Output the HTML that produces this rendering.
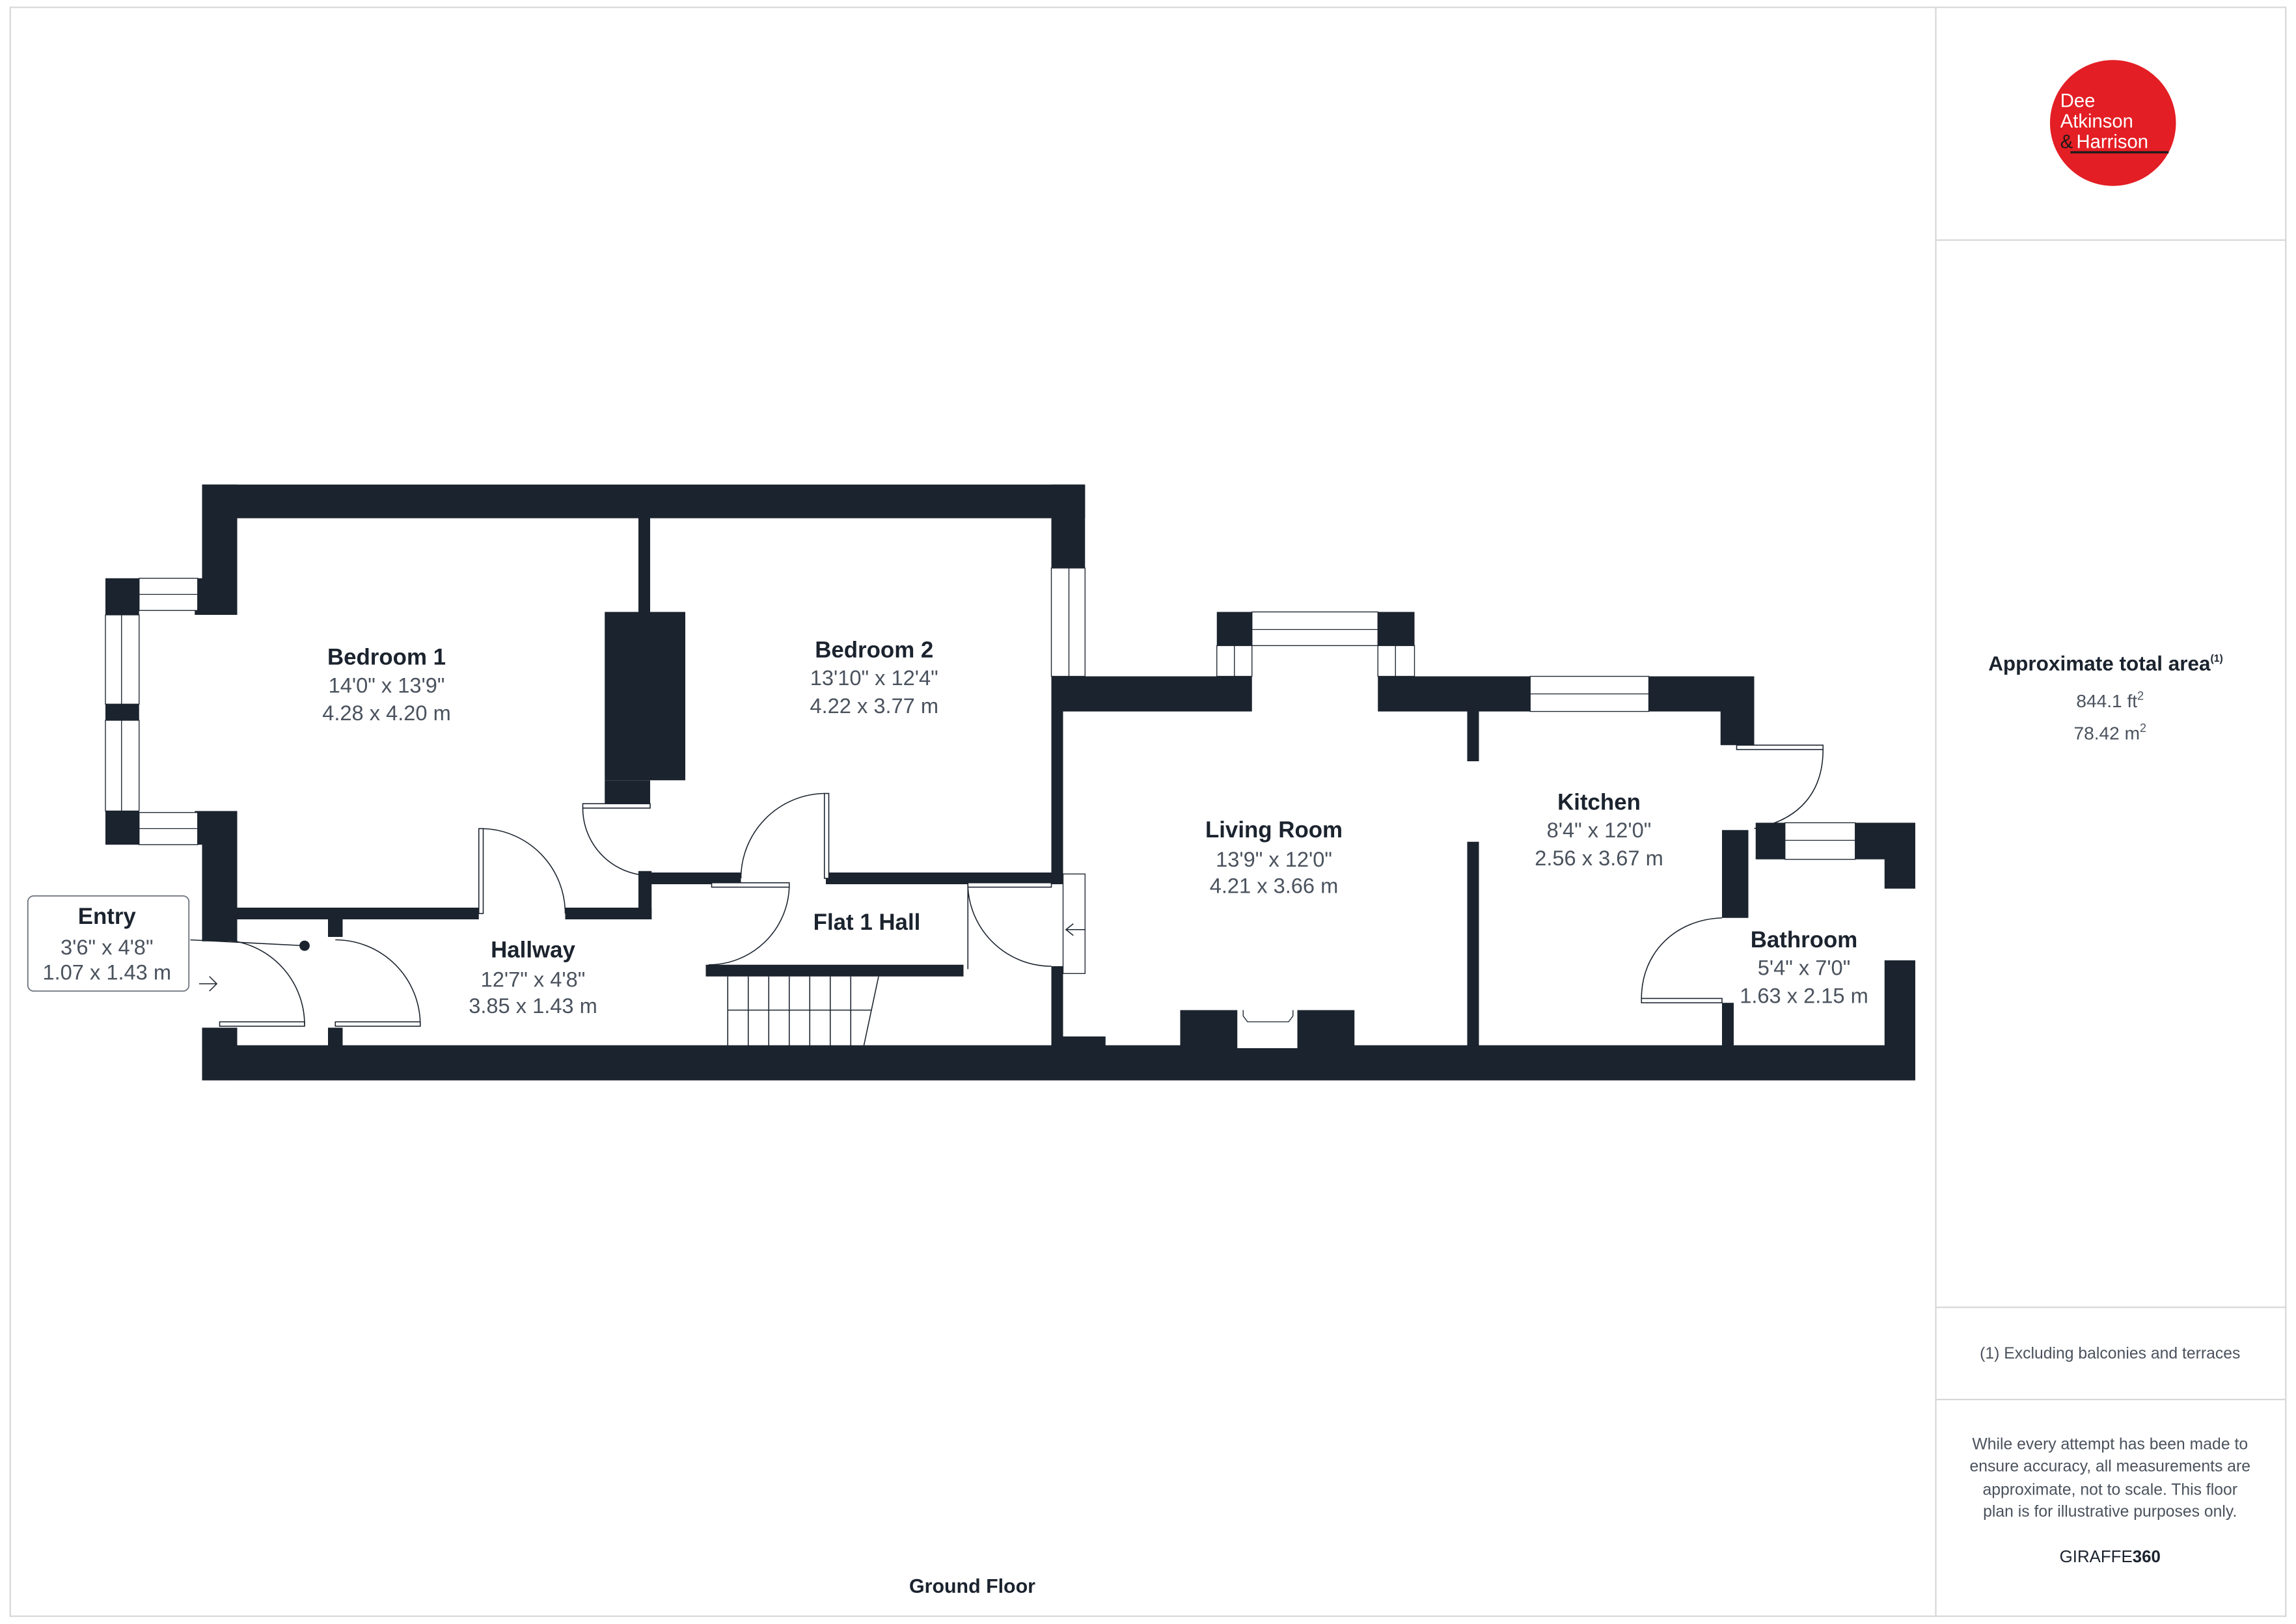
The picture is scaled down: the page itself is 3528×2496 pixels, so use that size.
<!DOCTYPE html>
<html><head><meta charset="utf-8"><style>
html,body{margin:0;padding:0;background:#fff}
svg{display:block}
text{font-family:"Liberation Sans",sans-serif}
.n{font-weight:bold;font-size:15.5px;fill:#1b232e;text-anchor:middle}
.d{font-size:14.5px;fill:#4a525d;text-anchor:middle}
.p{font-size:11px;fill:#4a525d;text-anchor:middle}
</style></head><body>
<svg width="3528" height="2496" viewBox="0 0 1568 1109.33" xmlns="http://www.w3.org/2000/svg">
<rect x="0" y="0" width="1568" height="1110" fill="#fff"/>
<rect x="7" y="5" width="1554" height="1099" fill="none" stroke="#d8d8d8" stroke-width="1"/>
<line x1="1322" y1="5" x2="1322" y2="1104" stroke="#d8d8d8"/>
<line x1="1322" y1="164" x2="1561" y2="164" stroke="#d8d8d8"/>
<line x1="1322" y1="893" x2="1561" y2="893" stroke="#d8d8d8"/>
<line x1="1322" y1="956" x2="1561" y2="956" stroke="#d8d8d8"/>

<!-- logo -->
<circle cx="1443" cy="84" r="43" fill="#e31e24"/>
<text x="1407" y="73" font-size="13" fill="#fff">Dee</text>
<text x="1407" y="87" font-size="13" fill="#fff">Atkinson</text>
<text x="1407" y="101" font-size="13" fill="#1b1b1b">&amp;</text>
<text x="1418" y="101" font-size="13" fill="#fff">Harrison</text>
<line x1="1414" y1="104" x2="1481" y2="104" stroke="#1b1b1b" stroke-width="1.5"/>

<text x="1438" y="458" font-size="14" font-weight="bold" fill="#1b232e" text-anchor="middle">Approximate total area<tspan font-size="7" dy="-6">(1)</tspan></text>
<text x="1441" y="483" class="d" font-size="12.5" style="font-size:12.5px">844.1 ft<tspan font-size="8" dy="-5">2</tspan></text>
<text x="1441" y="505" class="d" style="font-size:12.5px">78.42 m<tspan font-size="8" dy="-5">2</tspan></text>
<text x="1441" y="928" class="p">(1) Excluding balconies and terraces</text>
<text x="1441" y="990" class="p">While every attempt has been made to</text>
<text x="1441" y="1005" class="p">ensure accuracy, all measurements are</text>
<text x="1441" y="1021" class="p">approximate, not to scale. This floor</text>
<text x="1441" y="1036" class="p">plan is for illustrative purposes only.</text>
<text x="1441" y="1067" font-size="11.5" fill="#1b232e" text-anchor="middle">GIRAFFE<tspan font-weight="bold">360</tspan></text>

<!-- walls -->
<g fill="#1b232e">
<rect x="138" y="331" width="603" height="23"/>
<rect x="138" y="331" width="24" height="89"/>
<rect x="133" y="395" width="29" height="25"/>
<rect x="72" y="395" width="23" height="25"/>
<rect x="72" y="481" width="23" height="11"/>
<rect x="72" y="554" width="23" height="23"/>
<rect x="133" y="554" width="29" height="23"/>
<rect x="138" y="554" width="24" height="89"/>
<rect x="138" y="702" width="24" height="36"/>
<rect x="138" y="714" width="1170" height="24"/>
<rect x="162" y="620" width="165" height="8"/>
<rect x="386" y="620" width="59" height="8"/>
<rect x="436" y="595" width="9" height="33"/>
<rect x="436" y="354" width="8" height="66"/>
<rect x="413" y="418" width="55" height="115"/>
<rect x="413" y="533" width="31" height="18"/>
<rect x="443" y="596" width="63" height="8"/>
<rect x="564" y="596" width="158" height="8"/>
<rect x="718" y="331" width="23" height="57"/>
<rect x="718" y="462" width="137" height="24"/>
<rect x="718" y="462" width="8" height="142"/>
<rect x="718" y="660" width="8" height="54"/>
<rect x="726" y="708" width="29" height="6"/>
<rect x="831" y="418" width="24" height="23"/>
<rect x="941" y="418" width="25" height="23"/>
<rect x="941" y="462" width="104" height="24"/>
<rect x="1126" y="462" width="72" height="24"/>
<rect x="1175" y="462" width="23" height="47"/>
<rect x="1002" y="486" width="8" height="34"/>
<rect x="1002" y="575" width="8" height="139"/>
<rect x="1199" y="562" width="20" height="25"/>
<rect x="1267" y="562" width="41" height="25"/>
<rect x="1287" y="562" width="21" height="45"/>
<rect x="1176" y="567" width="18" height="60"/>
<rect x="1176" y="685" width="8" height="29"/>
<rect x="1287" y="656" width="21" height="58"/>
<rect x="806" y="690" width="119" height="24"/>
<rect x="224" y="628" width="10" height="12"/>
<rect x="224" y="702" width="10" height="12"/>
<rect x="482" y="659" width="176" height="8"/>
</g>
<!-- fireplace insert -->
<rect x="845" y="690" width="41" height="26" fill="#fff"/>
<path d="M849 690 v4 l3 4 h28 l3 -4 v-4" fill="none" stroke="#1b232e" stroke-width="0.6"/>

<!-- windows -->
<g fill="#fff" stroke="#1b232e" stroke-width="0.6">
<rect x="95" y="395" width="40" height="22"/><line x1="95" y1="406" x2="135" y2="406"/>
<rect x="95" y="555" width="40" height="22"/><line x1="95" y1="566" x2="135" y2="566"/>
<rect x="72" y="420" width="23" height="61"/><line x1="83" y1="420" x2="83" y2="481"/>
<rect x="72" y="492" width="23" height="62"/><line x1="83" y1="492" x2="83" y2="554"/>
<rect x="718" y="388" width="23" height="74"/><line x1="730" y1="388" x2="730" y2="462"/>
<rect x="855" y="418" width="86" height="23"/><line x1="855" y1="430" x2="941" y2="430"/>
<rect x="831" y="441" width="24" height="21"/><line x1="843" y1="441" x2="843" y2="462"/>
<rect x="941" y="441" width="25" height="21"/><line x1="953" y1="441" x2="953" y2="462"/>
<rect x="1045" y="462" width="81" height="24"/><line x1="1045" y1="474" x2="1126" y2="474"/>
<rect x="1219" y="562" width="48" height="25"/><line x1="1219" y1="574" x2="1267" y2="574"/>
<rect x="726" y="597" width="15" height="68"/>
</g>

<!-- doors -->
<g fill="none" stroke="#1b232e" stroke-width="0.7">
<rect x="150" y="698" width="58" height="3" fill="#fff"/>
<path d="M208 700 A58 58 0 0 0 150 642"/>
<line x1="130" y1="642" x2="208" y2="646"/>
<rect x="229" y="698" width="58" height="3" fill="#fff"/>
<path d="M287 700 A58 58 0 0 0 229 642"/>
<rect x="327" y="566" width="3" height="58" fill="#fff"/>
<path d="M330 566 A58 58 0 0 1 386 624"/>
<rect x="398" y="549" width="46" height="3" fill="#fff"/>
<path d="M398 552 A46 46 0 0 0 444 598"/>
<rect x="563" y="542" width="3" height="58" fill="#fff"/>
<path d="M563 542 A58 58 0 0 0 506 600"/>
<rect x="486" y="603" width="53" height="3" fill="#fff"/>
<path d="M539 606 A55 55 0 0 1 484 659"/>
<rect x="661" y="603" width="57" height="3" fill="#fff"/>
<line x1="661" y1="604" x2="661" y2="662"/>
<path d="M661 606 A57 57 0 0 0 718 660"/>
<rect x="1186" y="509" width="59" height="3" fill="#fff"/>
<path d="M1245 512 C1245 540 1230 560 1198 566"/>
<rect x="1121" y="682" width="55" height="3" fill="#fff"/>
<path d="M1121 682 C1121 650 1145 628 1176 627"/>
<!-- stairs -->
<path d="M497 667 V714 M511 667 V714 M525 667 V714 M539 667 V714 M553 667 V714 M567 667 V714 M581 667 V714 M497 690 H595 M600 667 L590 714"/>
<path d="M733 631 l-5 4 l5 4 M728 635 h13"/>
<path d="M136 672 h12 M143 667 l5 5 l-5 5"/>
</g>
<circle cx="208" cy="646" r="3.5" fill="#1b232e"/>

<!-- Entry box -->
<rect x="19" y="612" width="110" height="65" rx="4" fill="#fff" stroke="#6b727c" stroke-width="0.8"/>

<!-- labels -->
<text x="73" y="631" class="n">Entry</text>
<text x="73" y="652" class="d">3'6" x 4'8"</text>
<text x="73" y="669" class="d">1.07 x 1.43 m</text>
<text x="264" y="454" class="n">Bedroom 1</text>
<text x="264" y="473" class="d">14'0" x 13'9"</text>
<text x="264" y="492" class="d">4.28 x 4.20 m</text>
<text x="597" y="449" class="n">Bedroom 2</text>
<text x="597" y="468" class="d">13'10" x 12'4"</text>
<text x="597" y="487" class="d">4.22 x 3.77 m</text>
<text x="870" y="572" class="n">Living Room</text>
<text x="870" y="592" class="d">13'9" x 12'0"</text>
<text x="870" y="610" class="d">4.21 x 3.66 m</text>
<text x="1092" y="553" class="n">Kitchen</text>
<text x="1092" y="572" class="d">8'4" x 12'0"</text>
<text x="1092" y="591" class="d">2.56 x 3.67 m</text>
<text x="1232" y="647" class="n">Bathroom</text>
<text x="1232" y="666" class="d">5'4" x 7'0"</text>
<text x="1232" y="685" class="d">1.63 x 2.15 m</text>
<text x="364" y="654" class="n">Hallway</text>
<text x="364" y="674" class="d">12'7" x 4'8"</text>
<text x="364" y="692" class="d">3.85 x 1.43 m</text>
<text x="592" y="635" class="n">Flat 1 Hall</text>
<text x="664" y="1088" font-size="13.5" font-weight="bold" fill="#1b232e" text-anchor="middle">Ground Floor</text>
</svg>
</body></html>
